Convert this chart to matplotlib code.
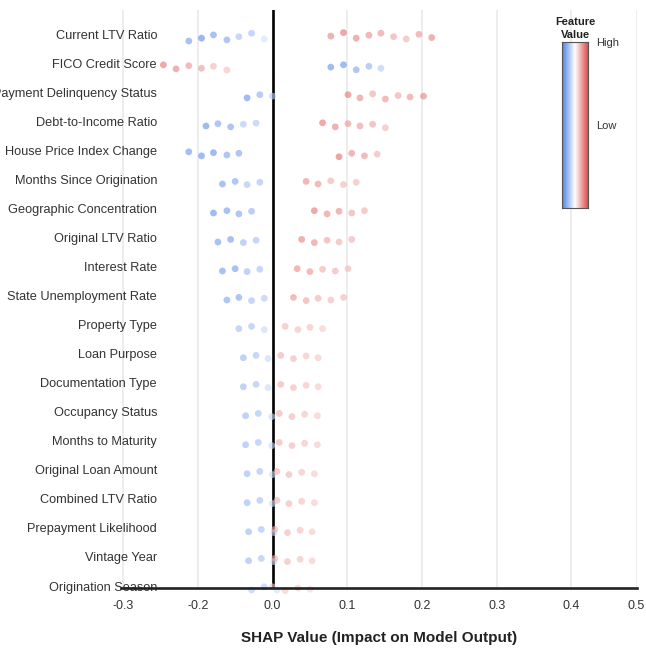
import numpy as np
import matplotlib
matplotlib.use("Agg")
import matplotlib.pyplot as plt
from matplotlib.colors import LinearSegmentedColormap
from matplotlib.transforms import ScaledTranslation

plt.rcParams["font.family"] = ["Liberation Sans", "DejaVu Sans"]

features = [
    "Current LTV Ratio", "FICO Credit Score", "Payment Delinquency Status",
    "Debt-to-Income Ratio", "House Price Index Change", "Months Since Origination",
    "Geographic Concentration", "Original LTV Ratio", "Interest Rate",
    "State Unemployment Rate", "Property Type", "Loan Purpose",
    "Documentation Type", "Occupancy Status", "Months to Maturity",
    "Original Loan Amount", "Combined LTV Ratio", "Prepayment Likelihood",
    "Vintage Year", "Origination Season",
]

# SHAP value of every observation, per feature
shap_values = [
    [-0.112, -0.095, -0.079, -0.061, -0.045, -0.028, -0.011,
     0.078, 0.095, 0.112, 0.129, 0.145, 0.162, 0.179, 0.196, 0.213],
    [-0.146, -0.129, -0.112, -0.095, -0.079, -0.061,
     0.078, 0.095, 0.112, 0.129, 0.145],
    [-0.034, -0.017, 0.000, 0.101, 0.117, 0.134, 0.151, 0.168, 0.184, 0.202],
    [-0.089, -0.073, -0.056, -0.039, -0.022, 0.067, 0.084, 0.101, 0.117, 0.134, 0.151],
    [-0.112, -0.095, -0.079, -0.061, -0.045, 0.089, 0.106, 0.123, 0.140],
    [-0.067, -0.050, -0.034, -0.017, 0.045, 0.061, 0.078, 0.095, 0.112],
    [-0.079, -0.061, -0.045, -0.028, 0.056, 0.073, 0.089, 0.106, 0.123],
    [-0.073, -0.056, -0.039, -0.022, 0.039, 0.056, 0.073, 0.089, 0.106],
    [-0.067, -0.050, -0.034, -0.017, 0.033, 0.050, 0.067, 0.084, 0.101],
    [-0.061, -0.045, -0.028, -0.011, 0.028, 0.045, 0.061, 0.078, 0.095],
    [-0.045, -0.028, -0.011, 0.017, 0.034, 0.050, 0.067],
    [-0.039, -0.022, -0.006, 0.011, 0.028, 0.045, 0.061],
    [-0.039, -0.022, -0.006, 0.011, 0.028, 0.045, 0.061],
    [-0.036, -0.019, -0.001, 0.009, 0.026, 0.043, 0.060],
    [-0.036, -0.019, -0.001, 0.009, 0.026, 0.043, 0.060],
    [-0.034, -0.017, 0.000, 0.006, 0.022, 0.039, 0.056],
    [-0.034, -0.017, 0.000, 0.006, 0.022, 0.039, 0.056],
    [-0.032, -0.015, 0.002, 0.003, 0.020, 0.037, 0.053],
    [-0.032, -0.015, 0.002, 0.003, 0.020, 0.037, 0.053],
    [-0.028, -0.011, 0.006, 0.000, 0.017, 0.034, 0.050],
]

# normalised feature value (0 = low, 1 = high) of every observation
feature_values = [
    [0.12, 0.05, 0.12, 0.15, 0.25, 0.25, 0.38,
     0.85, 0.90, 0.85, 0.82, 0.80, 0.75, 0.72, 0.80, 0.85],
    [0.88, 0.85, 0.80, 0.78, 0.70, 0.68, 0.08, 0.08, 0.15, 0.20, 0.30],
    [0.08, 0.18, 0.30, 0.88, 0.82, 0.75, 0.80, 0.75, 0.80, 0.85],
    [0.08, 0.15, 0.15, 0.28, 0.28, 0.88, 0.85, 0.80, 0.78, 0.75, 0.70],
    [0.10, 0.08, 0.08, 0.15, 0.15, 0.90, 0.82, 0.80, 0.72],
    [0.12, 0.15, 0.25, 0.25, 0.82, 0.80, 0.72, 0.70, 0.70],
    [0.08, 0.12, 0.15, 0.20, 0.88, 0.82, 0.82, 0.75, 0.72],
    [0.12, 0.12, 0.22, 0.25, 0.85, 0.82, 0.75, 0.72, 0.72],
    [0.12, 0.12, 0.22, 0.25, 0.82, 0.80, 0.72, 0.72, 0.70],
    [0.15, 0.15, 0.25, 0.28, 0.80, 0.75, 0.72, 0.70, 0.70],
    [0.25, 0.25, 0.35, 0.70, 0.68, 0.68, 0.65],
    [0.22, 0.25, 0.35, 0.72, 0.70, 0.68, 0.66],
    [0.22, 0.25, 0.35, 0.72, 0.70, 0.68, 0.66],
    [0.22, 0.25, 0.35, 0.72, 0.70, 0.68, 0.66],
    [0.22, 0.25, 0.35, 0.72, 0.70, 0.68, 0.66],
    [0.22, 0.25, 0.35, 0.72, 0.70, 0.68, 0.66],
    [0.22, 0.25, 0.35, 0.72, 0.70, 0.68, 0.66],
    [0.22, 0.25, 0.35, 0.72, 0.70, 0.68, 0.66],
    [0.22, 0.25, 0.35, 0.72, 0.70, 0.68, 0.66],
    [0.30, 0.30, 0.38, 0.65, 0.65, 0.65, 0.62],
]

# vertical jitter of every observation, in row units
jitter = [
    [0.14, 0.04, -0.07, 0.10, -0.01, -0.13, 0.07,
     -0.03, -0.15, 0.04, -0.06, -0.13, -0.01, 0.07, -0.09, 0.02],
    [-0.04, 0.10, -0.01, 0.08, 0.01, 0.14, 0.04, -0.04, 0.13, 0.01, 0.08],
    [0.10, -0.01, 0.04, -0.01, 0.10, -0.04, 0.14, 0.02, 0.07, 0.04],
    [0.07, -0.01, 0.10, 0.01, -0.03, -0.04, 0.10, -0.01, 0.07, 0.01, 0.13],
    [-0.04, 0.10, -0.01, 0.07, 0.01, 0.13, 0.01, 0.10, 0.04],
    [0.07, -0.02, 0.09, 0.01, -0.02, 0.07, -0.04, 0.09, 0.01],
    [0.07, -0.01, 0.10, 0.01, -0.01, 0.10, 0.01, 0.07, -0.01],
    [0.07, -0.02, 0.09, 0.01, -0.02, 0.09, 0.01, 0.07, -0.02],
    [0.07, -0.01, 0.09, 0.01, -0.01, 0.09, 0.01, 0.07, -0.01],
    [0.07, -0.02, 0.09, 0.01, -0.02, 0.09, 0.01, 0.07, -0.02],
    [0.06, -0.02, 0.09, -0.02, 0.09, 0.01, 0.06],
    [0.06, -0.02, 0.09, -0.02, 0.09, 0.00, 0.06],
    [0.06, -0.02, 0.09, -0.02, 0.09, 0.01, 0.06],
    [0.06, -0.02, 0.09, -0.02, 0.09, 0.01, 0.06],
    [0.06, -0.02, 0.09, -0.02, 0.09, 0.01, 0.06],
    [0.06, -0.02, 0.09, -0.02, 0.09, 0.01, 0.06],
    [0.06, -0.02, 0.09, -0.02, 0.09, 0.01, 0.06],
    [0.06, -0.02, 0.09, -0.02, 0.09, 0.01, 0.06],
    [0.06, -0.02, 0.09, -0.02, 0.09, 0.01, 0.06],
    [0.07, -0.04, 0.07, -0.04, 0.09, 0.00, 0.04],
]

X_MIN, X_MAX = -0.2027, 0.487
tick_positions = [-0.2, -0.1, 0.0, 0.1, 0.2, 0.3, 0.4, X_MAX]
tick_labels = ["-0.3", "-0.2", "0.0", "0.1", "0.2", "0.3", "0.4", "0.5"]

cmap = LinearSegmentedColormap.from_list(
    "feature_value", ["#4a7fea", "#ffffff", "#de4b4b"])

W, H = 646, 648
fig = plt.figure(figsize=(W / 100, H / 100), dpi=100)
ax_l, ax_r, ax_t, ax_b = 121, 636.5, 10, 588
ax = fig.add_axes([ax_l / W, 1 - ax_b / H, (ax_r - ax_l) / W, (ax_b - ax_t) / H])

for i, (sv, fv, jt) in enumerate(zip(shap_values, feature_values, jitter)):
    ax.scatter(sv, i + np.asarray(jt), c=fv, cmap=cmap, vmin=0, vmax=1,
               s=24, alpha=0.62, linewidths=0, zorder=3, clip_on=False)

ax.axvline(0, color="black", lw=1.9, zorder=2)

ax.set_xlim(X_MIN, X_MAX)
ax.set_ylim(len(features) - 1, -0.93)

ax.set_xticks(tick_positions)
ax.set_xticklabels(tick_labels)
ax.set_yticks(range(len(features)))
ax.set_yticklabels(features)
ax.tick_params(axis="x", length=0, pad=8.5, labelsize=9, labelcolor="#333333")
ax.tick_params(axis="y", length=0, pad=-26, labelsize=9.2, labelcolor="#333333")
lift = ScaledTranslation(0, 2 / 100, fig.dpi_scale_trans)
for lbl in ax.get_yticklabels():
    lbl.set_horizontalalignment("right")
    lbl.set_transform(lbl.get_transform() + lift)

ax.grid(axis="x", color="#e8e8e8", lw=1.1, zorder=0)
ax.grid(axis="y", visible=False)
ax.set_axisbelow(True)
for side in ("top", "right", "left"):
    ax.spines[side].set_visible(False)
ax.spines["bottom"].set_color("#222222")
ax.spines["bottom"].set_linewidth(1.9)
ax.spines["bottom"].set_zorder(5)

ax.set_xlabel("SHAP Value (Impact on Model Output)", fontsize=11,
              fontweight="bold", color="#222222", labelpad=14)

# feature-value colour key
cb_l, cb_r, cb_t, cb_b = 562, 588, 42, 208
cax = fig.add_axes([cb_l / W, 1 - cb_b / H, (cb_r - cb_l) / W, (cb_b - cb_t) / H])
gradient = np.linspace(0, 1, 256).reshape(1, -1)
cax.imshow(gradient, aspect="auto", cmap=cmap, extent=[0, 1, 0, 1])
cax.set_xticks([])
cax.set_yticks([])
for sp in cax.spines.values():
    sp.set_color("#555555")
    sp.set_linewidth(0.8)

fig.text(575 / W, 1 - 28.5 / H, "Feature\nValue", ha="center", va="center",
         fontsize=8, fontweight="bold", color="#222222", linespacing=1.3)
fig.text(596 / W, 1 - 43 / H, "High", ha="left", va="center",
         fontsize=8, color="#333333")
fig.text(596 / W, 1 - 126 / H, "Low", ha="left", va="center",
         fontsize=8, color="#333333")

fig.savefig("out.png", dpi=100)
